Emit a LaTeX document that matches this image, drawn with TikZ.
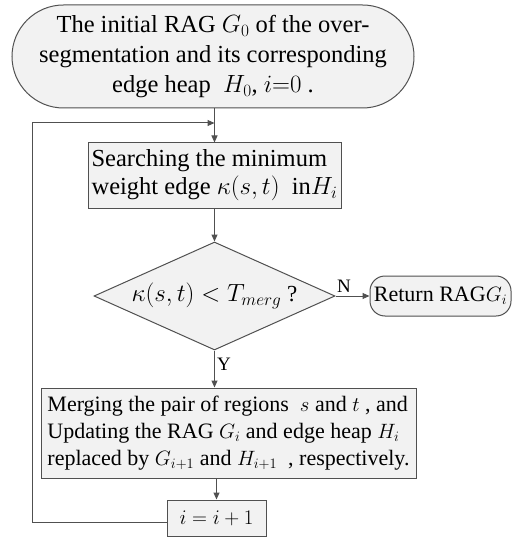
\documentclass[tikz,border=0pt]{standalone}
\usepackage{fontspec}
\setmainfont{Liberation Serif}
\usetikzlibrary{arrows.meta, shapes.geometric, shapes.misc}
\definecolor{boxfill}{RGB}{242,242,242}
\definecolor{linegray}{RGB}{80,80,80}

\begin{document}
\begin{tikzpicture}[x=1pt,y=-1pt,
    every node/.style={font=\fontsize{22}{27}\selectfont},
    flow/.style={draw=linegray,line width=1pt,fill=boxfill,inner sep=2pt},
    term/.style={flow,rounded rectangle},
    proc/.style={flow,rectangle,align=left},
    test/.style={flow,diamond,aspect=2.23,inner sep=0pt},
    arr/.style={draw=linegray,line width=1pt,-{Triangle[length=7pt,width=6pt]}}]
  \useasboundingbox (0,0) rectangle (512,537);
  % start
  \node[term,minimum width=406pt,minimum height=103pt,align=center,
        font=\fontsize{24.5}{30}\selectfont] (start) at (213,56.5)
    {The initial RAG $G_0$ of the over-\\segmentation and its corresponding\\edge heap \ $H_0$, $i{=}0$ .};
  % search
  \node[proc,minimum width=253pt,minimum height=65pt,
        font=\fontsize{24.5}{28}\selectfont] (search) at (214.5,175.5)
    {Searching the minimum\\weight edge $\kappa(s,t)$ \ in$H_i$};
  % test
  \node[test,minimum width=241pt,minimum height=108pt,
        font=\fontsize{23}{27}\selectfont] (cond) at (214.5,296)
    {$\kappa(s,t)<T_{merg}$ ?};
  % return
  \node[flow,rounded corners=15pt,minimum width=141pt,minimum height=40pt,inner sep=0pt,
        font=\fontsize{22}{27}\selectfont] (ret) at (440.5,296)
    {Return RAG$G_i$};
  % merge
  \node[proc,minimum width=375pt,minimum height=90pt] (merge) at (228.5,433)
    {Merging the pair of regions \ $s$ and $t$ , and\\Updating the RAG $G_i$ and edge heap $H_i$\\replaced by $G_{i+1}$ and $H_{i+1}$ \ , respectively.};
  % i = i+1
  \node[flow,minimum width=99pt,minimum height=36pt] (incr) at (216.5,518) {$i=i+1$};
  \coordinate (join) at (214.5,123);
  \coordinate (loopbot) at (32,522);
  \coordinate (looptop) at (32,123);

  \draw[arr] (start.south -| search.north) -- (search.north);
  \draw[arr] (search.south) -- (cond.north);
  \draw[arr] (cond.east) -- (ret.west) node[pos=0.25,above,font=\fontsize{19}{20}\selectfont]{N};
  \draw[arr] (cond.south) -- (cond.south |- merge.north) node[pos=0.37,right,inner sep=2pt,font=\fontsize{19}{20}\selectfont]{Y};
  \draw[arr] (merge.south -| incr.north) -- (incr.north);
  \draw[arr] (incr.west |- loopbot) -- (loopbot) -- (looptop) -- (join);
\end{tikzpicture}
\end{document}
